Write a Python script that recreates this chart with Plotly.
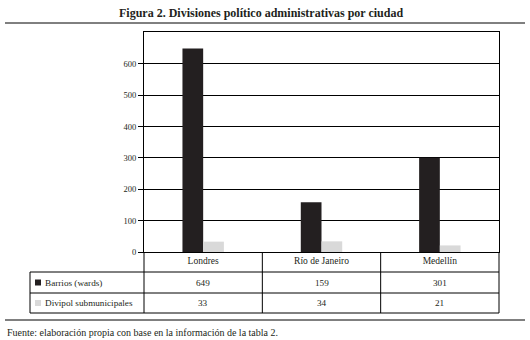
import plotly.graph_objects as go

ciudades = ["Londres", "Río de Janeiro", "Medellín"]
barrios = [649, 159, 301]
divipol = [33, 34, 21]
series_names = ["Barrios (wards)", "Divipol submunicipales"]
series_colors = ["#231f20", "#d9d9d9"]
y_ticks = [0, 100, 200, 300, 400, 500, 600]

titulo = "Figura 2. Divisiones político administrativas por ciudad"
fuente = "Fuente: elaboración propia con base en la información de la tabla 2."

FONT = "Liberation Serif"
xs = list(range(len(ciudades)))

fig = go.Figure()
for name, vals, col in zip(series_names, [barrios, divipol], series_colors):
    fig.add_trace(go.Bar(x=xs, y=vals, name=name, marker=dict(color=col, line=dict(width=0)),
                         showlegend=False, hoverinfo="skip"))

# geometry (paper coords) for the data table
W_L, W_R, T, B = 144, 31, 32, 88
PH = 340 - T - B
PW = 530 - W_L - W_R

def py(pix):
    return (340 - B - pix) / PH

def px(pix):
    return (pix - W_L) / PW

row1_bot = py(272)
row2_bot = py(293)
row3_bot = py(313)
tab_left = px(30)

shapes = []
line = dict(color="black", width=1)
# horizontal table lines
for yy in [row1_bot, row2_bot, row3_bot]:
    shapes.append(dict(type="line", xref="paper", yref="paper", x0=tab_left, x1=1, y0=yy, y1=yy, line=line))
# vertical table lines
shapes.append(dict(type="line", xref="paper", yref="paper", x0=tab_left, x1=tab_left, y0=row1_bot, y1=row3_bot, line=line))
for xx in [0, 1]:
    shapes.append(dict(type="line", xref="paper", yref="paper", x0=xx, x1=xx, y0=0, y1=row3_bot, line=line))
for i in range(len(ciudades) - 1):
    shapes.append(dict(type="line", xref="x", yref="paper", x0=i + 0.5, x1=i + 0.5, y0=0, y1=row3_bot, line=line))
# title underline and footer line
shapes.append(dict(type="line", xref="paper", yref="paper", x0=px(5), x1=px(525), y0=py(23), y1=py(23), line=line))
shapes.append(dict(type="line", xref="paper", yref="paper", x0=px(5), x1=px(525), y0=py(320), y1=py(320), line=line))

annotations = []
tf = dict(family=FONT, size=9.2, color="#231f20")
rows = [(row1_bot, row2_bot, barrios), (row2_bot, row3_bot, divipol)]
for (top, bot, vals), name, col in zip(rows, series_names, series_colors):
    yc = (top + bot) / 2
    # legend swatch
    shapes.append(dict(type="rect", xref="paper", yref="paper", x0=px(35), x1=px(41),
                       y0=yc - 3 / PH, y1=yc + 3 / PH, fillcolor=col, line=dict(width=0)))
    annotations.append(dict(xref="paper", yref="paper", x=px(43), y=yc, text=name, showarrow=False,
                            xanchor="left", yanchor="middle", font=tf))
    for i, v in enumerate(vals):
        annotations.append(dict(xref="x", yref="paper", x=i, y=yc, text=str(v), showarrow=False,
                                xanchor="center", yanchor="middle", font=tf))

annotations.append(dict(xref="paper", yref="paper", x=px(261), y=py(13), text="<b>" + titulo + "</b>",
                        showarrow=False, xanchor="center", yanchor="middle",
                        font=dict(family=FONT, size=12, color="#231f20")))
annotations.append(dict(xref="paper", yref="paper", x=px(5), y=py(332), text=fuente,
                        showarrow=False, xanchor="left", yanchor="middle",
                        font=dict(family=FONT, size=10, color="#231f20")))

fig.update_layout(
    width=530, height=340,
    margin=dict(l=W_L, r=W_R, t=T, b=B, pad=0),
    paper_bgcolor="white", plot_bgcolor="white",
    barmode="group", bargap=0.65, bargroupgap=0,
    font=dict(family=FONT, size=9, color="#231f20"),
    shapes=shapes, annotations=annotations,
    xaxis=dict(tickmode="array", tickvals=xs, ticktext=ciudades, range=[-0.5, len(ciudades) - 0.5],
               showgrid=False, zeroline=False, showline=True, linecolor="black", linewidth=1,
               mirror=True, ticks="", tickfont=dict(family=FONT, size=9.5), fixedrange=True),
    yaxis=dict(range=[0, 702], tickmode="array", tickvals=y_ticks, showgrid=True, gridcolor="black",
               gridwidth=1, zeroline=False, showline=True, linecolor="black", linewidth=1, mirror=True,
               ticks="outside", ticklen=5, tickcolor="black", tickfont=dict(family=FONT, size=8.5)),
)

fig.write_html("out.html", config={"displayModeBar": False},
               post_script="document.body.style.margin='0';document.body.style.overflow='hidden';")
